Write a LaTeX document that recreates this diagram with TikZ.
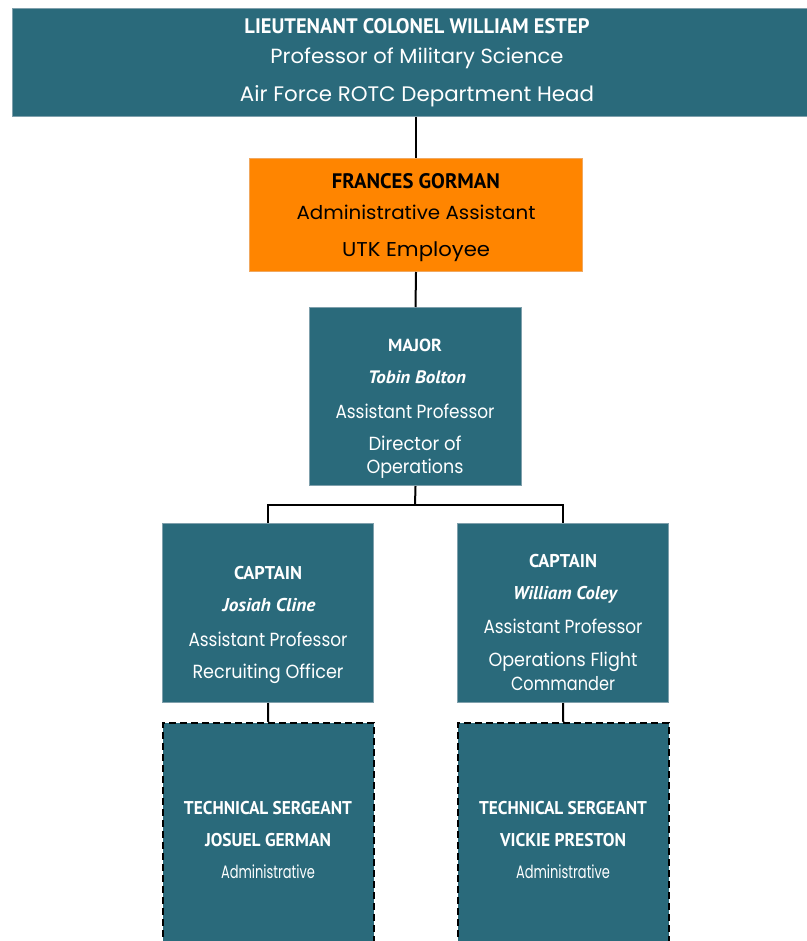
\documentclass[tikz,border=0pt]{standalone}
\usepackage{fontspec}
\usepackage{graphicx}
\setmainfont{Poppins}
\newfontfamily\condfam{PT Sans}
\definecolor{boxteal}{HTML}{2A6A7B}
\definecolor{boxedge}{HTML}{7FA0AC}
\definecolor{boxorange}{HTML}{FF8500}
\definecolor{orangeedge}{HTML}{F0A860}
\newcommand\Bf[1]{\fontsize{#1pt}{#1pt}\selectfont\condfam\bfseries}
\newcommand\BIf[1]{\fontsize{#1pt}{#1pt}\selectfont\condfam\bfseries\itshape}
\newcommand\Rf[1]{\fontsize{#1pt}{#1pt}\selectfont\rmfamily}
\newcommand\tl[7]{\node[txt,text=#7] (#1) at (#2,#3) {\resizebox{#4pt}{\height}{#5#6}};}
\begin{document}
\begin{tikzpicture}[x=1pt,y=-1pt,
  tealbox/.style={draw=boxedge,fill=boxteal,line width=1pt,anchor=north west,inner sep=0pt},
  orangebox/.style={draw=orangeedge,fill=boxorange,line width=1pt,anchor=north west,inner sep=0pt},
  dashbox/.style={draw=black,fill=boxteal,line width=1.5pt,dash pattern=on 7pt off 4pt,anchor=north west,inner sep=0pt},
  conn/.style={draw=black,line width=2pt},
  txt/.style={anchor=base,inner sep=0pt,outer sep=0pt}]
\useasboundingbox (0,0) rectangle (806,941);
% boxes
\node[tealbox,minimum width=810pt,minimum height=108pt] (top) at (12,8) {};
\node[orangebox,minimum width=333pt,minimum height=113pt] (orange) at (249,158) {};
\node[tealbox,minimum width=212pt,minimum height=178pt] (major) at (309,307) {};
\node[tealbox,minimum width=211pt,minimum height=179pt] (capL) at (162,523) {};
\node[tealbox,minimum width=211pt,minimum height=179pt] (capR) at (457,523) {};
\node[dashbox,minimum width=211pt,minimum height=240pt] (sgtL) at (162,722) {};
\node[dashbox,minimum width=211pt,minimum height=240pt] (sgtR) at (457,722) {};
\coordinate (split) at (415,505);
% connectors
\draw[conn] (top.south -| orange.north) -- (orange.north);
\draw[conn] (orange.south) -- (major.north);
\draw[conn] (major.south) -- (split);
\draw[conn] (split) -| (capL.north);
\draw[conn] (split) -| (capR.north);
\draw[conn] (capL.south) -- (sgtL.north);
\draw[conn] (capR.south) -- (sgtR.north);
% texts: top
\tl{t1}{417}{34}{345}{\Bf{21}}{LIEUTENANT COLONEL WILLIAM ESTEP}{white}
\tl{t2}{417}{64}{293}{\Rf{20.5}}{Professor of Military Science}{white}
\tl{t3}{417}{102}{354}{\Rf{21}}{Air Force ROTC Department Head}{white}
% orange
\tl{o1}{416}{189}{168}{\Bf{21}}{FRANCES GORMAN}{black}
\tl{o2}{416}{219}{239}{\Rf{19}}{Administrative Assistant}{black}
\tl{o3}{416}{256}{148}{\Rf{20}}{UTK Employee}{black}
% major
\tl{m1}{415}{351}{54}{\Bf{17.5}}{MAJOR}{white}
\tl{m2}{417}{383}{98}{\BIf{18}}{Tobin Bolton}{white}
\tl{m3}{415}{418}{159}{\Rf{19}}{Assistant Professor}{white}
\tl{m4}{415}{450}{93}{\Rf{19}}{Director of}{white}
\tl{m5}{415}{473}{97}{\Rf{19}}{Operations}{white}
% captain left
\tl{l1}{268}{579}{68}{\Bf{18.5}}{CAPTAIN}{white}
\tl{l2}{269}{611}{93}{\BIf{18.5}}{Josiah Cline}{white}
\tl{l3}{268}{646}{159}{\Rf{19}}{Assistant Professor}{white}
\tl{l4}{268}{678}{151}{\Rf{19}}{Recruiting Officer}{white}
% captain right
\tl{r1}{563}{567}{68}{\Bf{18.5}}{CAPTAIN}{white}
\tl{r2}{565}{599}{104}{\BIf{18.5}}{William Coley}{white}
\tl{r3}{563}{633}{159}{\Rf{19}}{Assistant Professor}{white}
\tl{r4}{563}{666}{149}{\Rf{19}}{Operations Flight}{white}
\tl{r5}{563}{690}{104}{\Rf{19}}{Commander}{white}
% sergeants
\tl{s1}{268}{814}{168}{\Bf{18.5}}{TECHNICAL SERGEANT}{white}
\tl{s2}{268}{846}{126}{\Bf{18.5}}{JOSUEL GERMAN}{white}
\tl{s3}{268}{878}{94}{\Rf{18}}{Administrative}{white}
\tl{u1}{563}{814}{168}{\Bf{18.5}}{TECHNICAL SERGEANT}{white}
\tl{u2}{563}{846}{126}{\Bf{18.5}}{VICKIE PRESTON}{white}
\tl{u3}{563}{878}{94}{\Rf{18}}{Administrative}{white}
\end{tikzpicture}
\end{document}
